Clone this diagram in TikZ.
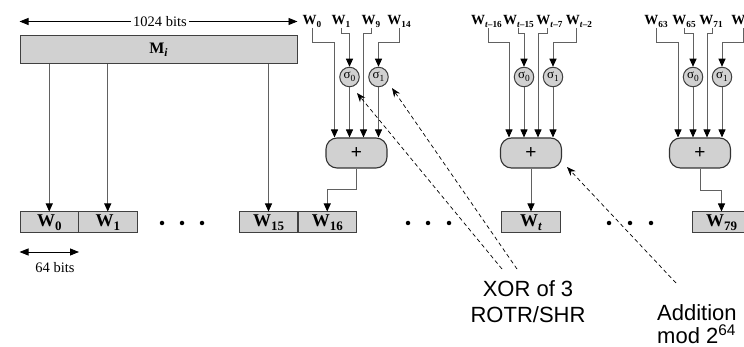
\documentclass[tikz,border=0pt]{standalone}
\usepackage{fontspec}
\setmainfont{Liberation Serif}
\newfontfamily\annot{Liberation Sans}
\usetikzlibrary{arrows.meta,calc}
\newcommand\sbx[1]{\raisebox{-0.45ex}{\scalebox{0.72}{#1}}}
\newcommand\tsb[1]{\raisebox{-0.45ex}{\scalebox{0.66}{#1}}}
\begin{document}
\begin{tikzpicture}[x=1pt,y=-1pt,
  conn/.style={draw=black!62,line width=0.9pt},
  arr/.style={conn,-{Triangle[length=8pt,width=7pt,color=black]}},
  dimarr/.style={draw=black,line width=0.8pt,{Triangle[length=9pt,width=7pt]}-{Triangle[length=9pt,width=7pt]}},
  note/.style={draw=black,line width=0.7pt,dash pattern=on 4pt off 3pt,-{Stealth[length=9pt,width=7pt]}},
  wbox/.style={draw=black!75,fill=black!18,line width=1pt,inner sep=0pt,minimum height=21pt,minimum width=58.5pt,font=\fontsize{18}{20}\selectfont\bfseries},
  plusbox/.style={draw=black!80,fill=black!18,line width=1.1pt,rounded corners=11pt,inner sep=0pt,minimum width=61pt,minimum height=30pt,font=\annot\fontsize{19}{22}\selectfont},
  sig/.style={circle,draw=black!75,fill=black!18,line width=1pt,inner sep=0pt,minimum size=19.5pt,font=\fontsize{13}{14}\selectfont},
  toplab/.style={anchor=base,inner sep=0pt,font=\fontsize{14}{16}\selectfont\bfseries},
  dot/.style={circle,fill=black,inner sep=0pt,minimum size=4.5pt},
  txt/.style={font=\annot\fontsize{22}{26}\selectfont,inner sep=0pt}
]
\useasboundingbox (0,0) rectangle (744,347);

% message block
\node[wbox,minimum width=277pt,minimum height=28pt,font=\fontsize{16}{18}\selectfont\bfseries] (Mi) at (158.5,50) {M\sbx{\textit{i}}};
\node[fill=white,inner sep=2pt,font=\fontsize{14.5}{16}\selectfont] (kb) at (160,21.5) {1024 bits};
\draw[dimarr] (Mi.north west |- kb) -- (Mi.north east |- kb);
\node[fill=white,inner sep=2pt,font=\fontsize{14.5}{16}\selectfont] at (160,21.5) {1024 bits};

% word boxes
\node[wbox] (W0) at (49.25,222.5) {W\sbx{0}};
\node[wbox] (W1) at (107.75,222.5) {W\sbx{1}};
\node[wbox] (W15) at (268.5,222.5) {W\sbx{15}};
\node[wbox] (W16) at (327.25,222.5) {W\sbx{16}};
\node[wbox] (Wt) at (531,222.5) {W\sbx{\textit{t}}};
\node[wbox] (W79) at (721.5,222.5) {W\sbx{79}};

\foreach \x [count=\i] in {162,182,202,408,428,449,609,630,651}
  \node[dot] (d\i) at (\x,223) {};

\coordinate (b64) at (49,252);
\draw[dimarr] (W0.west |- b64) -- (W0.east |- b64);
\node[font=\fontsize{14.5}{16}\selectfont] (l64) at (55,268) {64 bits};

\draw[arr] (Mi.south -| W0) -- (W0.north);
\draw[arr] (Mi.south -| W1) -- (W1.north);
\draw[arr] (Mi.south -| W15) -- (W15.north);

% ---------- stage 1 (W16)
\node[plusbox] (aP) at (356.5,153) {+};
\node[sig] (aS0) at (349.5,77) {σ\sbx{0}};
\node[sig] (aS1) at (378.5,77) {σ\sbx{1}};
\node[toplab] (aL0) at (312,25) {W\tsb{0}};
\node[toplab] (aL1) at (341,25) {W\tsb{1}};
\node[toplab] (aL2) at (371,25) {W\tsb{9}};
\node[toplab] (aL3) at (399,25) {W\tsb{14}};
\coordinate (aJ0) at (334.5,42);
\coordinate (aJ1) at (349.5,33);
\coordinate (aJ2) at (363.5,33);
\coordinate (aJ3) at (378.5,42);
\draw[arr] ($(aL0.base)+(0,3)$) |- (aJ0) -- (aJ0 |- aP.north);
\draw[arr] ($(aL1.base)+(0,3)$) |- (aJ1) -- (aS0.north);
\draw[arr] ($(aL2.base)+(0,3)$) |- (aJ2) -- (aJ2 |- aP.north);
\draw[arr] ($(aL3.base)+(0,3)$) |- (aJ3) -- (aS1.north);
\draw[arr] (aS0.south) -- (aS0.south |- aP.north);
\draw[arr] (aS1.south) -- (aS1.south |- aP.north);
\draw[arr] (aP.south) -- ++(0,21) -| (W16.north);

% ---------- stage 2 (Wt)
\node[plusbox] (bP) at (531,153) {+};
\node[sig] (bS0) at (524,77) {σ\sbx{0}};
\node[sig] (bS1) at (553,77) {σ\sbx{1}};
\node[toplab] (bL0) at (486.5,25) {W\tsb{\textit{t}–16}};
\node[toplab] (bL1) at (518.5,25) {W\tsb{\textit{t}–15}};
\node[toplab] (bL2) at (549.5,25) {W\tsb{\textit{t}–7}};
\node[toplab] (bL3) at (579,25) {W\tsb{\textit{t}–2}};
\coordinate (bJ0) at (509,42);
\coordinate (bJ1) at (524,33);
\coordinate (bJ2) at (538,33);
\coordinate (bJ3) at (553,42);
\draw[arr] ($(bL0.base)+(1.5,3)$) |- (bJ0) -- (bJ0 |- bP.north);
\draw[arr] ($(bL1.base)+(0,3)$) |- (bJ1) -- (bS0.north);
\draw[arr] ($(bL2.base)+(-2.5,3)$) |- (bJ2) -- (bJ2 |- bP.north);
\draw[arr] ($(bL3.base)+(-3,3)$) |- (bJ3) -- (bS1.north);
\draw[arr] (bS0.south) -- (bS0.south |- bP.north);
\draw[arr] (bS1.south) -- (bS1.south |- bP.north);
\draw[arr] (bP.south) -- (Wt.north);

% ---------- stage 3 (W79)
\node[plusbox] (cP) at (700,153) {+};
\node[sig] (cS0) at (693,77) {σ\sbx{0}};
\node[sig] (cS1) at (722,77) {σ\sbx{1}};
\node[toplab] (cL0) at (656,25) {W\tsb{63}};
\node[toplab] (cL1) at (684,25) {W\tsb{65}};
\node[toplab] (cL2) at (711,25) {W\tsb{71}};
\node[toplab] (cL3) at (743,25) {W\tsb{77}};
\coordinate (cJ0) at (678,42);
\coordinate (cJ1) at (693,33);
\coordinate (cJ2) at (707,33);
\coordinate (cJ3) at (722,42);
\draw[arr] ($(cL0.base)+(0,3)$) |- (cJ0) -- (cJ0 |- cP.north);
\draw[arr] ($(cL1.base)+(0,3)$) |- (cJ1) -- (cS0.north);
\draw[arr] ($(cL2.base)+(1,3)$) |- (cJ2) -- (cJ2 |- cP.north);
\draw[arr] ($(cL3.base)+(0,3)$) |- (cJ3) -- (cS1.north);
\draw[arr] (cS0.south) -- (cS0.south |- cP.north);
\draw[arr] (cS1.south) -- (cS1.south |- cP.north);
\draw[arr] (cP.south) -- ++(0,22) -| (W79.north);

% ---------- annotations
\node[txt,align=center] (xor) at (528,302) {XOR of 3\\ROTR/SHR};
\node[txt,align=left,anchor=west] (add) at (657,324) {Addition\\[-3pt]mod 2\textsuperscript{64}};
\coordinate (xa) at (502,269);
\coordinate (xb) at (517,269);
\coordinate (ad) at (676,283);
\draw[note] (xa) -- ($(aS0)+(7.5,16)$);
\draw[note] (xb) -- ($(aS1)+(13.5,11)$);
\draw[note] (ad) -- ($(bP)+(36,14)$);
\end{tikzpicture}
\end{document}
